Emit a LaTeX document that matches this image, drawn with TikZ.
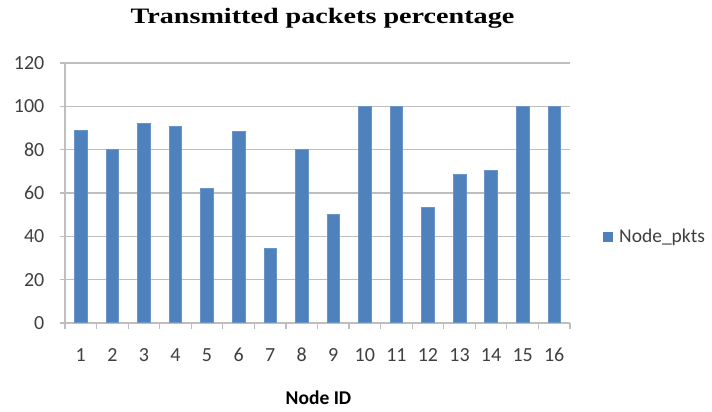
\documentclass[tikz,border=0pt]{standalone}
\usepackage{fontspec}
\setmainfont{Carlito}
\newfontfamily\titlefont{Liberation Serif}
\definecolor{barblue}{HTML}{4F81BD}
\definecolor{gridgray}{HTML}{BEBEBE}
\definecolor{txtgray}{HTML}{404040}
\begin{document}
\begin{tikzpicture}[x=1pt,y=-1pt,
  grid/.style={draw=gridgray,line width=1.2pt},
  bar/.style={fill=barblue,draw=barblue!85!white,line width=0.6pt},
  ylab/.style={anchor=east,inner sep=0pt,font=\fontsize{20}{20}\selectfont,text=txtgray},
  xlab/.style={anchor=center,inner sep=0pt,font=\fontsize{20}{20}\selectfont,text=txtgray}]
\useasboundingbox (0,0) rectangle (712,412);
\fill[white] (0,0) rectangle (712,412);
% gridlines and y labels
\foreach \v in {0,20,...,120}{
  \pgfmathsetmacro{\yy}{323-\v*2.1667}
  \draw[grid] (60,\yy) -- (570,\yy);
  \node[ylab] (yl\v) at (44.5,\yy) {\v};
}
% axes
\draw[grid] (65,63) -- (65,323);
\foreach \k in {0,...,16}{
  \pgfmathsetmacro{\xx}{65+\k*31.5625}
  \draw[grid] (\xx,323) -- (\xx,329);
}
% bars
\foreach \i/\val in {1/89,2/80,3/92,4/90.7,5/62,6/88.5,7/34.5,8/80,9/50,10/100,11/100,12/53.4,13/68.8,14/70.6,15/100,16/100}{
  \pgfmathsetmacro{\xc}{65+(\i-0.5)*31.5625}
  \pgfmathsetmacro{\yt}{323-\val*2.1667}
  \draw[bar] (\xc-6.3,322.4) rectangle (\xc+6.3,\yt);
  \node[xlab] (xl\i) at (\xc,355) {\i};
}
% title
\node[inner sep=0pt,anchor=center] (title) at (322.5,18.5) {\scalebox{1.28}[1]{\titlefont\bfseries\fontsize{22}{22}\selectfont Transmitted packets percentage}};
% axis title
\node[inner sep=0pt] (xtitle) at (318.5,398) {\bfseries\fontsize{19.5}{19.5}\selectfont\color{black} Node ID};
% legend
\fill[barblue] (603,232) rectangle (613,242);
\node[anchor=west,inner sep=0pt,font=\fontsize{19.5}{19.5}\selectfont,text=txtgray] (leg) at (619,237) {Node\_pkts};
\end{tikzpicture}
\end{document}
